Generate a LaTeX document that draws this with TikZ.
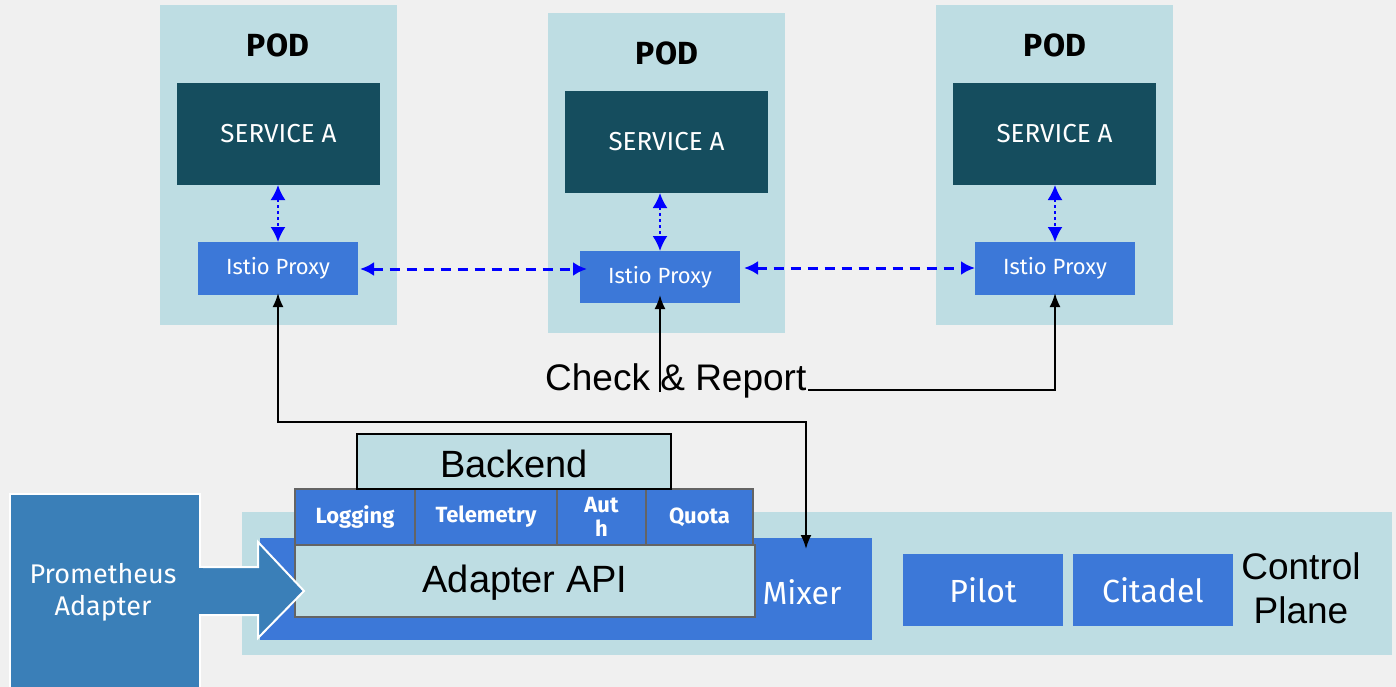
\documentclass[tikz,border=0pt]{standalone}
\usepackage{fontspec}
\setmainfont{Liberation Sans}
\newfontfamily\fira{Fira Sans}
\usetikzlibrary{fit,arrows.meta,calc}
\definecolor{bgc}{RGB}{240,240,240}
\definecolor{podc}{RGB}{190,221,227}
\definecolor{svcc}{RGB}{21,77,94}
\definecolor{pxc}{RGB}{60,120,216}
\definecolor{promc}{RGB}{58,127,184}
\definecolor{bordc}{RGB}{100,100,100}
\tikzset{
  box/.style={inner sep=0pt, outer sep=0pt},
  podbox/.style={box, fill=podc},
  svcbox/.style={box, fill=svcc, text=white, font=\fira\fontsize{26}{30}\selectfont},
  pxbox/.style={box, fill=pxc, text=white, font=\fira\fontsize{22}{26}\selectfont},
  podlbl/.style={font=\fira\bfseries\fontsize{32}{36}\selectfont, inner sep=0pt},
  featbox/.style={box, fill=pxc, draw=bordc, line width=1.5pt},
  feattxt/.style={inner sep=0pt, text=white, align=center, font=\fira\bfseries\fontsize{22}{26}\selectfont},
  bigtxt/.style={font=\fontsize{38}{42}\selectfont},
  cpbox/.style={box, fill=pxc, text=white, font=\fira\fontsize{32}{36}\selectfont},
  bluedash/.style={draw=blue, line width=3pt, dash pattern=on 10pt off 7pt, {Latex[length=14pt,width=14pt]}-{Latex[length=14pt,width=14pt]}},
  bluedot/.style={draw=blue, line width=2pt, dash pattern=on 3pt off 3pt, {Latex[length=15pt,width=15pt]}-{Latex[length=15pt,width=15pt]}},
  blk/.style={draw=black, line width=2pt},
  blkhead/.style={-{Latex[length=14pt,width=11pt]}}
}
\begin{document}
\begin{tikzpicture}[x=1pt,y=-1pt]
\fill[bgc] (0,0) rectangle (1396,687);
\useasboundingbox (0,0) rectangle (1396,687);
% pods
\node[podbox, fit={(160,5) (397,325)}] (pod1) {};
\node[podbox, fit={(548,13) (785,333)}] (pod2) {};
\node[podbox, fit={(936,5) (1173,325)}] (pod3) {};
\node[podlbl] (pl1) at (278,45) {POD};
\node[podlbl] (pl2) at (667,53) {POD};
\node[podlbl] (pl3) at (1055,45) {POD};
% services
\node[svcbox, fit={(177,83) (380,185)}] (s1) {};
\node[svcbox] (s1t) at (s1.center) {SERVICE A};
\node[svcbox, fit={(565,91) (768,193)}] (s2) {};
\node[svcbox] (s2t) at (s2.center) {SERVICE A};
\node[svcbox, fit={(953,83) (1156,185)}] (s3) {};
\node[svcbox] (s3t) at (s3.center) {SERVICE A};
% proxies
\node[pxbox, fit={(198,242) (358,295)}] (p1) {};
\node[pxbox] (p1t) at (p1.center) {Istio Proxy};
\node[pxbox, fit={(580,251) (740,303)}] (p2) {};
\node[pxbox] (p2t) at (p2.center) {Istio Proxy};
\node[pxbox, fit={(975,242) (1135,295)}] (p3) {};
\node[pxbox] (p3t) at (p3.center) {Istio Proxy};
% service-proxy arrows
\draw[bluedot] (p1.north |- s1.south) -- (p1.north);
\draw[bluedot] (p2.north |- s2.south) -- (p2.north);
\draw[bluedot] (p3.north |- s3.south) -- (p3.north);
% proxy-proxy arrows
\coordinate (a1) at (360,269);
\coordinate (a2) at (587,269);
\coordinate (b1) at (744,268);
\coordinate (b2) at (975,268);
\draw[bluedash] (a1) -- (a2);
\draw[bluedash] (b1) -- (b2);
% control plane
\node[podbox, fit={(242,512) (1392,655)}] (cp) {};
\node[box, fill=pxc, fit={(260,538) (872,640)}] (mixer) {};
\node[inner sep=0pt, text=white, font=\fira\fontsize{32}{36}\selectfont] (mixt) at (802,592) {Mixer};
\node[box, fill=podc, draw=bordc, line width=1.5pt, fit={(295,545) (755,617)}] (api) {};
\node[bigtxt, inner sep=0pt] (apit) at (525,583) {Adapter API};
\node[featbox, fit={(295,489) (415,545)}] (f1) {};
\node[feattxt] (f1t) at (f1.center) {Logging};
\node[featbox, fit={(415,489) (557,545)}] (f2) {};
\node[feattxt] (f2t) at (f2.center) {Telemetry};
\node[featbox, fit={(557,489) (646,545)}] (f3) {};
\node[feattxt, font=\fira\bfseries\fontsize{22}{24}\selectfont] (f3t) at (f3.center) {Aut\\h};
\node[featbox, fit={(646,489) (753,545)}] (f4) {};
\node[feattxt] (f4t) at (f4.center) {Quota};
\node[box, fill=podc, draw=black, line width=1.5pt, fit={(357,434) (671,489)}] (backend) {};
\node[bigtxt, inner sep=0pt] (bet) at (514,464) {Backend};
\node[cpbox, fit={(903,554) (1063,626)}] (pilot) {};
\node[cpbox] (pilott) at (pilot.center) {Pilot};
\node[cpbox, fit={(1073,554) (1233,626)}] (citadel) {};
\node[cpbox] (citadelt) at (citadel.center) {Citadel};
\node[align=center, inner sep=0pt, font=\fontsize{37}{44}\selectfont] (cpt) at (1301,588) {Control\\Plane};
% check & report
\node[inner sep=0pt, anchor=base west, font=\fontsize{37}{42}\selectfont] (cr) at (545,390) {Check \& Report};
\coordinate (mx) at (806,549);
\coordinate (j1) at (278,422);
\draw[blk, {Latex[length=14pt,width=11pt]}-{Latex[length=14pt,width=11pt]}] ([yshift=2pt]p1.south) -- (j1) -| (mx);
\coordinate (c2) at (660,392);
\draw[blk, blkhead] (c2) -- ([yshift=8pt]p2.south);
\coordinate (c3) at (808,390);
\draw[blk, blkhead] (c3) -| ([yshift=2pt]p3.south);
% prometheus adapter
\node[box, fill=promc, draw=white, line width=2pt, fit={(10,494) (200,690)}] (prom) {};
\node[inner sep=0pt, align=center, text=white, font=\fira\fontsize{27}{32}\selectfont] (promt) at (103,592) {Prometheus\\Adapter};
\draw[fill=promc, draw=white, line width=2pt] (200,567) -- (258,567) -- (258,542) -- (304,591) coordinate (ptip) -- (258,638) -- (258,615) -- (200,615);
\fill[promc] (198,568) rectangle (203,614);
\end{tikzpicture}
\end{document}
